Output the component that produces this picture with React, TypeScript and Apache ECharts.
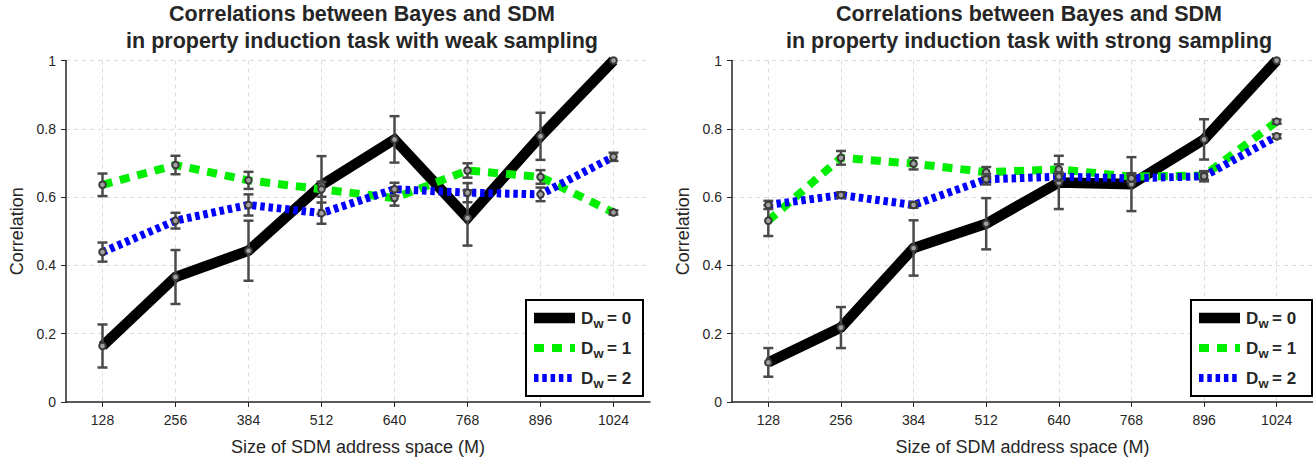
import React, { useEffect, useRef } from 'react';
import * as echarts from 'echarts';

const sizes = ['128', '256', '384', '512', '640', '768', '896', '1024'];

const weakD0 = [0.164, 0.366, 0.443, 0.635, 0.769, 0.539, 0.778, 1.0];
const weakD0Err = [0.063, 0.079, 0.088, 0.085, 0.068, 0.081, 0.069, 0];
const weakD1 = [0.636, 0.694, 0.649, 0.623, 0.597, 0.678, 0.659, 0.555];
const weakD1Err = [0.033, 0.027, 0.025, 0.022, 0.022, 0.021, 0.02, 0.006];
const weakD2 = [0.439, 0.531, 0.577, 0.553, 0.623, 0.613, 0.608, 0.718];
const weakD2Err = [0.028, 0.023, 0.031, 0.031, 0.019, 0.028, 0.02, 0.012];

const strongD0 = [0.116, 0.218, 0.451, 0.522, 0.643, 0.638, 0.769, 1.0];
const strongD0Err = [0.042, 0.06, 0.081, 0.075, 0.078, 0.079, 0.059, 0];
const strongD1 = [0.531, 0.715, 0.698, 0.673, 0.681, 0.66, 0.663, 0.821];
const strongD1Err = [0.045, 0.02, 0.017, 0.015, 0.015, 0.01, 0.012, 0.006];
const strongD2 = [0.577, 0.606, 0.577, 0.652, 0.66, 0.655, 0.661, 0.778];
const strongD2Err = [0.012, 0.008, 0.008, 0.015, 0.012, 0.01, 0.015, 0.006];

const titles = [
  'Correlations between Bayes and SDM\nin property induction task with weak sampling',
  'Correlations between Bayes and SDM\nin property induction task with strong sampling',
];
const legendNames = ['0', '1', '2'];
const xName = 'Size of SDM address space (M)';
const yName = 'Correlation';

const FONT = '"Liberation Sans", Arial, Helvetica, sans-serif';
const TXT = '#262626';
const colors = ['#000000', '#00ee00', '#0000ff'];
const widths = [10.5, 8, 8];
const dashes: any[] = ['solid', [10, 8], [4.5, 3.8]];

const grids = [
  { left: 66, top: 60.5, width: 584, height: 343.5 },
  { left: 732, top: 60.5, width: 584, height: 343.5 },
];

function lineSeries(gi: number, k: number, data: number[]) {
  return {
    type: 'line',
    xAxisIndex: gi,
    yAxisIndex: gi,
    data,
    symbol: 'none',
    z: 2 + k,
    lineStyle: { color: colors[k], width: widths[k], type: dashes[k], cap: 'butt', join: 'miter' },
  };
}

function errSeries(gi: number, means: number[], errs: number[]) {
  return {
    type: 'custom',
    xAxisIndex: gi,
    yAxisIndex: gi,
    z: 10,
    data: means.map((m, i) => [i, m, errs[i]]),
    renderItem: (params: any, api: any) => {
      const i = api.value(0);
      const m = api.value(1);
      const e = api.value(2);
      const c = api.coord([i, m]);
      const children: any[] = [];
      const st = { stroke: '#4a4a4a', lineWidth: 2.5 };
      if (e > 0) {
        const t = api.coord([i, m + e]);
        const b = api.coord([i, m - e]);
        children.push({ type: 'line', shape: { x1: c[0], y1: t[1], x2: c[0], y2: b[1] }, style: st });
        children.push({ type: 'line', shape: { x1: c[0] - 5, y1: t[1], x2: c[0] + 5, y2: t[1] }, style: st });
        children.push({ type: 'line', shape: { x1: c[0] - 5, y1: b[1], x2: c[0] + 5, y2: b[1] }, style: st });
      }
      children.push({
        type: 'circle',
        shape: { cx: c[0], cy: c[1], r: 3.3 },
        style: { fill: '#a0a0a0', stroke: '#3a3a3a', lineWidth: 2 },
      });
      return { type: 'group', children };
    },
  };
}

function legendGraphic(left: number, width: number) {
  const top = 300;
  const Z = 100;
  const children: any[] = [
    {
      type: 'rect',
      z: Z,
      shape: { x: left, y: top, width, height: 96 },
      style: { fill: '#ffffff', stroke: '#000000', lineWidth: 2 },
    },
  ];
  legendNames.forEach((n, k) => {
    const y = top + 18 + k * 30;
    if (k === 0) {
      children.push({
        type: 'rect',
        z: Z + 1,
        shape: { x: left + 8, y: y - widths[k] / 2, width: 41, height: widths[k] },
        style: { fill: colors[k] },
      });
    } else {
      children.push({
        type: 'line',
        z: Z + 1,
        shape: { x1: left + 8, y1: y, x2: left + 49, y2: y },
        style: { stroke: colors[k], lineWidth: widths[k], lineCap: 'butt', lineDash: dashes[k] },
      });
    }
    children.push({
      type: 'text',
      z: Z + 1,
      x: left + 55,
      y: y,
      style: { text: 'D', font: `bold 17px ${FONT}`, fill: TXT, verticalAlign: 'middle', align: 'left' },
    });
    children.push({
      type: 'text',
      z: Z + 1,
      x: left + 67.5,
      y: y + 5,
      style: { text: 'w', font: `bold 13px ${FONT}`, fill: TXT, verticalAlign: 'middle', align: 'left' },
    });
    children.push({
      type: 'text',
      z: Z + 1,
      x: left + 81,
      y: y,
      style: { text: '= ' + n, font: `bold 17px ${FONT}`, fill: TXT, verticalAlign: 'middle', align: 'left' },
    });
  });
  return { type: 'group', children, z: Z };
}

function xAxis(gi: number) {
  return {
    type: 'category',
    gridIndex: gi,
    data: sizes,
    boundaryGap: true,
    name: xName,
    nameLocation: 'middle',
    nameGap: 36,
    nameTextStyle: { fontFamily: FONT, fontSize: 18, color: TXT },
    axisLine: { show: true, lineStyle: { color: TXT, width: 1.5 } },
    axisTick: { show: true, alignWithLabel: true, length: 5, lineStyle: { color: TXT, width: 1 } },
    axisLabel: { fontFamily: FONT, fontSize: 14, color: TXT, margin: 11 },
    splitLine: { show: true, alignWithLabel: true, lineStyle: { color: '#dcdcdc', type: [4, 4], width: 1 } },
  };
}

function yAxis(gi: number) {
  return {
    type: 'value',
    gridIndex: gi,
    min: 0,
    max: 1,
    interval: 0.2,
    name: yName,
    nameLocation: 'middle',
    nameGap: 40,
    nameTextStyle: { fontFamily: FONT, fontSize: 18, color: TXT },
    axisLine: { show: true, lineStyle: { color: TXT, width: 1.5 } },
    axisTick: { show: true, length: 5, lineStyle: { color: TXT, width: 1 } },
    axisLabel: {
      fontFamily: FONT,
      fontSize: 14,
      color: TXT,
      margin: 10,
      formatter: (v: number) => String(Math.round(v * 10) / 10),
    },
    splitLine: { show: true, lineStyle: { color: '#dcdcdc', type: [4, 4], width: 1 } },
  };
}

export default function App() {
  const ref = useRef<HTMLDivElement>(null);
  useEffect(() => {
    if (!ref.current) return;
    const chart = echarts.init(ref.current, undefined, { renderer: 'svg' });
    const option: any = {
      animation: false,
      backgroundColor: '#ffffff',
      grid: grids,
      xAxis: [xAxis(0), xAxis(1)],
      yAxis: [yAxis(0), yAxis(1)],
      series: [
        lineSeries(0, 0, weakD0),
        lineSeries(0, 1, weakD1),
        lineSeries(0, 2, weakD2),
        errSeries(0, weakD0, weakD0Err),
        errSeries(0, weakD1, weakD1Err),
        errSeries(0, weakD2, weakD2Err),
        lineSeries(1, 0, strongD0),
        lineSeries(1, 1, strongD1),
        lineSeries(1, 2, strongD2),
        errSeries(1, strongD0, strongD0Err),
        errSeries(1, strongD1, strongD1Err),
        errSeries(1, strongD2, strongD2Err),
      ],
      graphic: [
        {
          type: 'text',
          x: 362,
          y: 0,
          style: { text: titles[0], font: `bold 21.5px ${FONT}`, fill: TXT, align: 'center', verticalAlign: 'top', lineHeight: 27 },
        },
        {
          type: 'text',
          x: 1029,
          y: 0,
          style: { text: titles[1], font: `bold 21.5px ${FONT}`, fill: TXT, align: 'center', verticalAlign: 'top', lineHeight: 27 },
        },
        legendGraphic(526, 117),
        legendGraphic(1191, 121),
      ],
    };
    chart.setOption(option);
    return () => chart.dispose();
  }, []);
  return (
    <div
      ref={ref}
      style={{ position: 'fixed', left: 0, top: 0, width: 1313, height: 461, background: '#fff' }}
    />
  );
}
